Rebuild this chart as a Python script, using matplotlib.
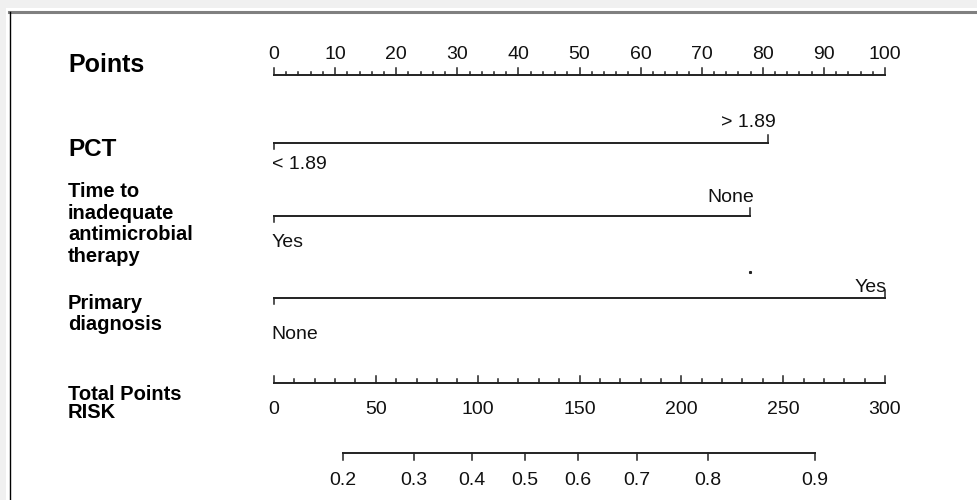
import matplotlib
matplotlib.use('Agg')
import matplotlib.pyplot as plt
from matplotlib.patches import Rectangle
from matplotlib.lines import Line2D

plt.rcParams['font.family'] = ['Liberation Sans', 'DejaVu Sans']

# nomogram scores
point_ticks = list(range(0, 101, 10))
point_minor = list(range(0, 101, 2))

pct_labels = ['< 1.89', '> 1.89']
pct_points = [0, 80.8]
time_labels = ['Yes', 'None']
time_points = [0, 77.9]
diag_labels = ['None', 'Yes']
diag_points = [0, 100]

total_ticks = list(range(0, 301, 50))
total_minor = list(range(0, 301, 10))
total_max = 300

risk_values = [0.2, 0.3, 0.4, 0.5, 0.6, 0.7, 0.8, 0.9]
risk_total = [33.9, 68.5, 97.0, 123.3, 149.1, 178.2, 213.1, 265.6]

W, H = 978, 500
x0, x1 = 274, 885           # pixel span of the 0-100 points scale
ppx = (x1 - x0) / 100.0

fig = plt.figure(figsize=(W / 100, H / 100), dpi=100)
fig.patch.set_facecolor('#f0f0f0')
fig.add_artist(Rectangle((6 / W, 0), 1, (H - 8) / H, transform=fig.transFigure,
                         facecolor='white', edgecolor='none', zorder=0))
fig.add_artist(Line2D([9 / W, 1], [1 - 12 / H] * 2, transform=fig.transFigure,
                      color='#808080', lw=2.2, zorder=1))
fig.add_artist(Line2D([9.5 / W] * 2, [0, 1 - 12 / H], transform=fig.transFigure,
                      color='black', lw=1.0, zorder=1))

ax = fig.add_axes([0, 0, 1, 1])
ax.set_xlim(-x0 / ppx, (W - x0) / ppx)
ax.set_ylim(H, 0)
ax.axis('off')

lc = '#222222'
lw = 1.4
fs = 14
tc = '#111111'


def tot(v):
    return v * 100.0 / total_max


# Points axis
ax.plot([0, 100], [75, 75], color=lc, lw=lw)
for t in point_minor:
    ln = 7 if t % 10 == 0 else 3.5
    ax.plot([t, t], [75, 75 - ln], color=lc, lw=1.1)
for t in point_ticks:
    ax.text(t, 54.5, str(t), ha='center', va='center', fontsize=fs, color=tc)


# categorical predictors
def cat_row(y, pts, labels, y_low, y_high, dx):
    ax.plot(pts, [y, y], color=lc, lw=lw)
    ax.plot([pts[0]] * 2, [y, y + 6], color=lc, lw=1.1)
    ax.plot([pts[1]] * 2, [y, y - 8], color=lc, lw=1.1)
    ax.text(pts[0] - 0.4, y_low, labels[0], ha='left', va='center', fontsize=fs, color=tc)
    ax.text(pts[1] + dx, y_high, labels[1], ha='right', va='center', fontsize=fs, color=tc)


cat_row(143, pct_points, pct_labels, 164.5, 122.5, 1.3)
cat_row(216, time_points, time_labels, 242.5, 197.5, 0.6)
cat_row(298, diag_points, diag_labels, 334.5, 287, 0.3)
ax.plot([time_points[1]], [272], marker='s', ms=1.2, color=lc)

# Total points axis
ax.plot([0, 100], [383, 383], color=lc, lw=lw)
for t in total_minor:
    ln = 7 if t % 50 == 0 else 4
    ax.plot([tot(t)] * 2, [383, 383 - ln], color=lc, lw=1.1)
for t in total_ticks:
    ax.text(tot(t), 409.5, str(t), ha='center', va='center', fontsize=fs, color=tc)

# Risk axis
rx = [tot(v) for v in risk_total]
ax.plot([rx[0], rx[-1]], [453, 453], color=lc, lw=lw)
for x, v in zip(rx, risk_values):
    ax.plot([x, x], [453, 460], color=lc, lw=1.1)
    ax.text(x, 480.5, '%.1f' % v, ha='center', va='center', fontsize=fs, color=tc)

# row titles
lx = (68 - x0) / ppx
ax.text(lx, 65, 'Points', ha='left', va='center', fontsize=18, fontweight='bold')
ax.text(lx, 149, 'PCT', ha='left', va='center', fontsize=17.5, fontweight='bold')
ax.text(lx, 224, 'Time to\ninadequate\nantimicrobial\ntherapy', ha='left',
        va='center', fontsize=14.5, fontweight='bold', linespacing=1.17)
ax.text(lx, 314, 'Primary\ndiagnosis', ha='left', va='center', fontsize=14.5,
        fontweight='bold', linespacing=1.17)
ax.text(lx, 395, 'Total Points', ha='left', va='center', fontsize=14.5, fontweight='bold')
ax.text(lx, 413, 'RISK', ha='left', va='center', fontsize=14.5, fontweight='bold')

fig.savefig('out.png', dpi=100)
